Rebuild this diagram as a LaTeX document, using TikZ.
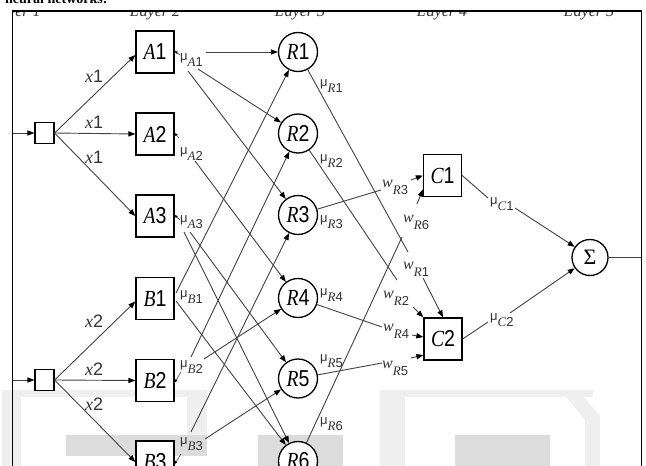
\documentclass[tikz,border=0pt]{standalone}
\usepackage{graphicx}
\usepackage{fontspec}
\setmainfont{Liberation Serif}
\newfontfamily\sansf{Liberation Sans}
\usetikzlibrary{arrows.meta}
\definecolor{linegray}{HTML}{424242}
\definecolor{labgray}{HTML}{333333}
\definecolor{wmlight}{HTML}{EFEFEF}
\definecolor{wmdark}{HTML}{DCDCDC}
% node caption: italic letter followed by a sans digit
\newcommand\nl[2]{\scalebox{0.85}[1]{\itshape #1\upshape\sansf #2}}
% membership grade label, mu with a lowered index
\newcommand\mulab[2]{{\sansf μ}\raisebox{-6.5pt}{\itshape #1\upshape\sansf #2}}
% rule weight label
\newcommand\wlab[2]{{\itshape w}\raisebox{-7pt}{\fontsize{13}{13}\selectfont\itshape #1\upshape\sansf #2}}
% input label
\newcommand\xlab[1]{{\itshape x}{\sansf #1}}
\begin{document}
\begin{tikzpicture}[x=1pt,y=-1pt,
  conn/.style={draw=linegray, line width=0.9pt},
  arr/.style={conn, -{Triangle[length=7pt,width=5.2pt,color=black]}},
  tinyarr/.style={conn, line width=0.6pt, -{Triangle[length=3pt,width=2.6pt,color=black]}},
  insq/.style={draw=black, line width=1.2pt, fill=white, minimum width=19pt, minimum height=21pt, inner sep=0pt},
  box/.style={draw=black, line width=1.3pt, fill=white, minimum width=38pt, minimum height=42pt, inner sep=0pt, font=\fontsize{23}{23}\selectfont},
  rulenode/.style={circle, draw=black, line width=1.3pt, fill=white, minimum size=39pt, inner sep=0pt, font=\fontsize{23}{23}\selectfont},
  sumnode/.style={circle, draw=black, line width=1.3pt, fill=white, minimum size=36pt, inner sep=0pt, font=\fontsize{22}{22}\selectfont},
  mul/.style={inner sep=0pt, anchor=base west, text=labgray, font=\fontsize{13}{13}\selectfont},
  wl/.style={inner sep=0pt, anchor=base west, text=labgray, font=\fontsize{16}{16}\selectfont},
  xl/.style={inner sep=0pt, anchor=base west, text=labgray, font=\fontsize{18}{18}\selectfont},
  layerlab/.style={inner sep=0pt, anchor=base, text=labgray, font=\fontsize{16}{16}\selectfont\itshape},
]
\clip (0,0) rectangle (646,466);
\fill[white] (0,0) rectangle (646,466);

% faint background lettering at the foot
\fill[wmlight] (2,390) rectangle (21,466);
\fill[wmlight] (2,390) rectangle (207,397);
\fill[wmlight] (187,390) rectangle (207,436);
\fill[wmdark] (66,435) rectangle (207,456);
\fill[wmdark] (258,435) rectangle (343,466);
\fill[wmlight] (380,390) rectangle (405,466);
\fill[wmlight] (405,390) rectangle (593,397);
\fill[wmdark] (455,435) rectangle (550,466);
\fill[wmlight] (563,393) -- (580,393) -- (600,416) -- (600,466) -- (585,466) -- (585,420) -- cycle;

% heading line above the frame, mostly cut away
\node[anchor=base west, inner sep=0pt, font=\bfseries\fontsize{14}{14}\selectfont] at (5,3.5) {neural networks:};

% layer 1: inputs
\node[insq] (i1) at (44.5,133) {};
\node[insq] (i2) at (44.5,380) {};
% layer 2: membership functions
\node[box] (A1) at (155,52) {\nl{A}{1}};
\node[box] (A2) at (155,134) {\nl{A}{2}};
\node[box] (A3) at (155,216) {\nl{A}{3}};
\node[box] (B1) at (155,298.5) {\nl{B}{1}};
\node[box] (B2) at (155,380.5) {\nl{B}{2}};
\node[box] (B3) at (155,462) {\nl{B}{3}};
% layer 3: rules
\node[rulenode] (R1) at (298,52) {\nl{R}{1}};
\node[rulenode] (R2) at (298,133.5) {\nl{R}{2}};
\node[rulenode] (R3) at (298,215) {\nl{R}{3}};
\node[rulenode] (R4) at (298,298) {\nl{R}{4}};
\node[rulenode] (R5) at (298,378.5) {\nl{R}{5}};
\node[rulenode] (R6) at (298,461) {\nl{R}{6}};
% layer 4: consequents
\node[box] (C1) at (442.5,175.5) {\nl{C}{1}};
\node[box] (C2) at (443,339) {\nl{C}{2}};
% layer 5: summation
\node[sumnode] (S) at (590,257.5) {Σ};

% input leads
\coordinate (in1) at (13,133);
\coordinate (in2) at (13,380);
\coordinate (out) at (641.5,257.5);
\draw[arr] (in1) -- (i1);
\draw[arr] (in2) -- (i2);
\draw[arr] (i1.east) -- ([yshift=-3pt]A1.west);
\draw[arr] (i1.east) -- (A2.west);
\draw[arr] (i1.east) -- (A3.west);
\draw[arr] (i2.east) -- ([yshift=-3pt]B1.west);
\draw[arr] (i2.east) -- (B2.west);
\draw[arr] (i2.east) -- (B3.west);

% membership grades into the rules
\coordinate (a1r1) at (206,52);
\coordinate (a1r2) at (198,69);
\coordinate (a1r3) at (188,71);
\coordinate (a2r4) at (195,161);
\coordinate (a3r5) at (190,232);
\coordinate (a3r6) at (184,232);
\coordinate (b1r1) at (176,293);
\coordinate (b1r6) at (176,301);
\coordinate (b2r2) at (191,357);
\coordinate (b2r4) at (204,359);
\coordinate (b3r3) at (191,432);
\coordinate (b3r5) at (205,439);
\draw[arr] (a1r1) -- (R1);
\draw[arr] (a1r2) -- (R2);
\draw[arr] (a1r3) -- (R3);
\draw[arr] (a2r4) -- (R4);
\draw[arr] (a3r5) -- (R5);
\draw[arr] (a3r6) -- (R6);
\draw[arr] (b1r1) -- (R1);
\draw[arr] (b1r6) -- (R6);
\draw[arr] (b2r2) -- (R2);
\draw[arr] (b2r4) -- (R4);
\draw[arr] (b3r3) -- (R3);
\draw[arr] (b3r5) -- (R5);

% small ticks back into the membership boxes
\coordinate (ta1) at (180,55); \draw[tinyarr] (ta1) -- ([yshift=1pt]A1.east);
\coordinate (ta2) at (179,138); \draw[tinyarr] (ta2) -- ([yshift=1pt]A2.east);
\coordinate (ta3) at (180,220); \draw[tinyarr] (ta3) -- ([yshift=1pt]A3.east);
\coordinate (tb2) at (181,372); \draw[tinyarr] (tb2) -- ([yshift=-2pt]B2.east);
\coordinate (tb3) at (181,454); \draw[tinyarr] (tb3) -- ([yshift=-2pt]B3.east);

% rule strengths towards the consequents
\coordinate (r1e) at (408,252);
\coordinate (r2e) at (397,280);
\coordinate (r3e) at (381,190);
\coordinate (r4e) at (382,327);
\coordinate (r5e) at (382,363);
\coordinate (r6e) at (402,237);
\draw[conn] (R1) -- (r1e);
\draw[conn] (R2) -- (r2e);
\draw[conn] (R3) -- (r3e);
\draw[conn] (R4) -- (r4e);
\draw[conn] (R5) -- (r5e);
\draw[conn] (R6) -- (r6e);
\coordinate (w1s) at (423,278);
\coordinate (w2s) at (413,307);
\coordinate (w3s) at (411,180);
\coordinate (w4s) at (412,335);
\coordinate (w5s) at (411,358);
\coordinate (w6s) at (417,204);
\draw[arr] (w1s) -- (C2.north);
\draw[arr] (w2s) -- (C2.north west);
\draw[arr] (w4s) -- ([yshift=2pt]C2.west);
\draw[arr] (w5s) -- ([yshift=-16pt]C2.west);
\draw[arr] (w3s) -- (C1.west);
\draw[arr] (w6s) -- ([yshift=-14pt]C1.west);

% consequents into the sum
\coordinate (c1a) at (488,198);
\coordinate (c1b) at (515,208);
\coordinate (c2a) at (488,322);
\coordinate (c2b) at (510,313);
\draw[conn] (C1.east) -- (c1a);
\draw[arr] (c1b) -- (S.145);
\draw[conn] (C2.east) -- (c2a);
\draw[arr] (c2b) -- (S.215);
\draw[conn, line width=1.1pt] (S) -- (out);

% input labels
\node[xl] at (85,82) {\xlab{1}};
\node[xl] at (85,128) {\xlab{1}};
\node[xl] at (85,163) {\xlab{1}};
\node[xl] at (85,327) {\xlab{2}};
\node[xl] at (85,375) {\xlab{2}};
\node[xl] at (85,410) {\xlab{2}};

% membership grade labels
\node[mul] at (180,60) {\mulab{A}{1}};
\node[mul] at (180,154) {\mulab{A}{2}};
\node[mul] at (180,222) {\mulab{A}{3}};
\node[mul] at (180,297) {\mulab{B}{1}};
\node[mul] at (180,367) {\mulab{B}{2}};
\node[mul] at (180,444) {\mulab{B}{3}};
\node[mul] at (320,86) {\mulab{R}{1}};
\node[mul] at (320,161) {\mulab{R}{2}};
\node[mul] at (320,222) {\mulab{R}{3}};
\node[mul] at (320,295) {\mulab{R}{4}};
\node[mul] at (320,361) {\mulab{R}{5}};
\node[mul] at (320,424) {\mulab{R}{6}};
\node[mul] at (490,204) {\mulab{C}{1}};
\node[mul] at (490,320) {\mulab{C}{2}};

% weight labels
\node[wl] at (382,187) {\wlab{R}{3}};
\node[wl] at (403,222) {\wlab{R}{6}};
\node[wl] at (403,269) {\wlab{R}{1}};
\node[wl] at (383,298) {\wlab{R}{2}};
\node[wl] at (383,331) {\wlab{R}{4}};
\node[wl] at (382,368) {\wlab{R}{5}};

% layer captions, cut by the frame
\begin{scope}
\clip (13.5,12) rectangle (640.5,40);
\node[layerlab] at (15.5,16.7) {L\kern1pt ayer 1};
\node[layerlab] at (155,16.7) {L\kern1pt ayer 2};
\node[layerlab] at (300,16.7) {L\kern1pt ayer 3};
\node[layerlab] at (442,16.7) {L\kern1pt ayer 4};
\node[layerlab] at (589,16.7) {L\kern1pt ayer 5};
\end{scope}

% frame
\draw[black, line width=1.8pt] (12.5,466) -- (12.5,11) -- (641.5,11) -- (641.5,466);
\end{tikzpicture}
\end{document}
